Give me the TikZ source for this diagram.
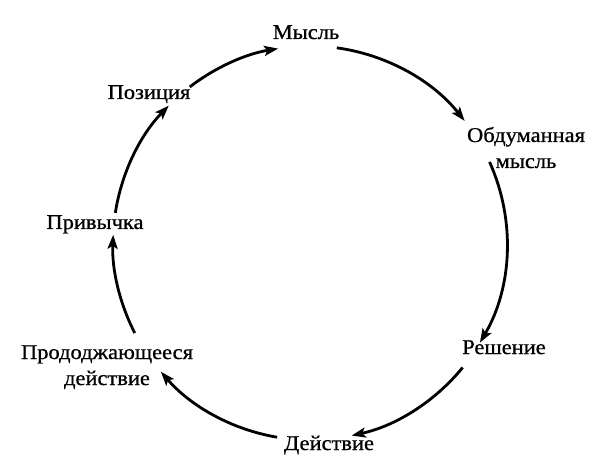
\documentclass[tikz,border=0pt]{standalone}
\usepackage{fontspec}
\setmainfont{Liberation Serif}
\newfontfamily\lblfont{Liberation Serif}[FakeBold=0.8, FakeStretch=1.07]
\usetikzlibrary{arrows.meta,calc}
\begin{document}
\begin{tikzpicture}[x=1pt,y=-1pt,
  lbl/.style={font=\lblfont\fontsize{21}{26}\selectfont, inner sep=0pt, anchor=base, align=center},
  arr/.style={line width=2.8pt, -{Stealth[length=14pt,width=10pt,inset=3pt]}}]
\useasboundingbox (0,0) rectangle (604,470);
\coordinate (c) at (310,243);
\def\R{197}
% labels
\node[lbl] (thought) at (306,39) {Мысль};
\node[lbl] (considered) at (526,168) {Обдуманная\\мысль};
\node[lbl] (decision) at (504,354) {Решение};
\node[lbl] (action) at (329,450) {Действие};
\node[lbl] (continued) at (107,385) {Прододжающееся\\действие};
\node[lbl] (habit) at (95,229) {Привычка};
\node[lbl] (position) at (149,99) {Позиция};
% arc start points
\coordinate (s1) at ($(c)+(-127.6:\R)$);
\coordinate (s2) at ($(c)+(-82.2:\R)$);
\coordinate (s3) at ($(c)+(-24.3:\R)$);
\coordinate (s4) at ($(c)+(39.2:\R)$);
\coordinate (s5) at ($(c)+(99.6:\R)$);
\coordinate (s6) at ($(c)+(152.8:\R)$);
\coordinate (s7) at ($(c)+(188.8:\R)$);
% connectors
\draw[arr] (s1) arc[start angle=-127.6, end angle=-99.3, radius=\R];
\draw[arr] (s2) arc[start angle=-82.2, end angle=-38.3, radius=\R];
\draw[arr] (s3) arc[start angle=-24.3, end angle=30.4, radius=\R];
\draw[arr] (s4) arc[start angle=39.2, end angle=77.8, radius=\R];
\draw[arr] (s5) arc[start angle=99.6, end angle=139.2, radius=\R];
\draw[arr] (s6) arc[start angle=152.8, end angle=182.4, radius=\R];
\draw[arr] (s7) arc[start angle=188.8, end angle=224.2, radius=\R];
\end{tikzpicture}
\end{document}
